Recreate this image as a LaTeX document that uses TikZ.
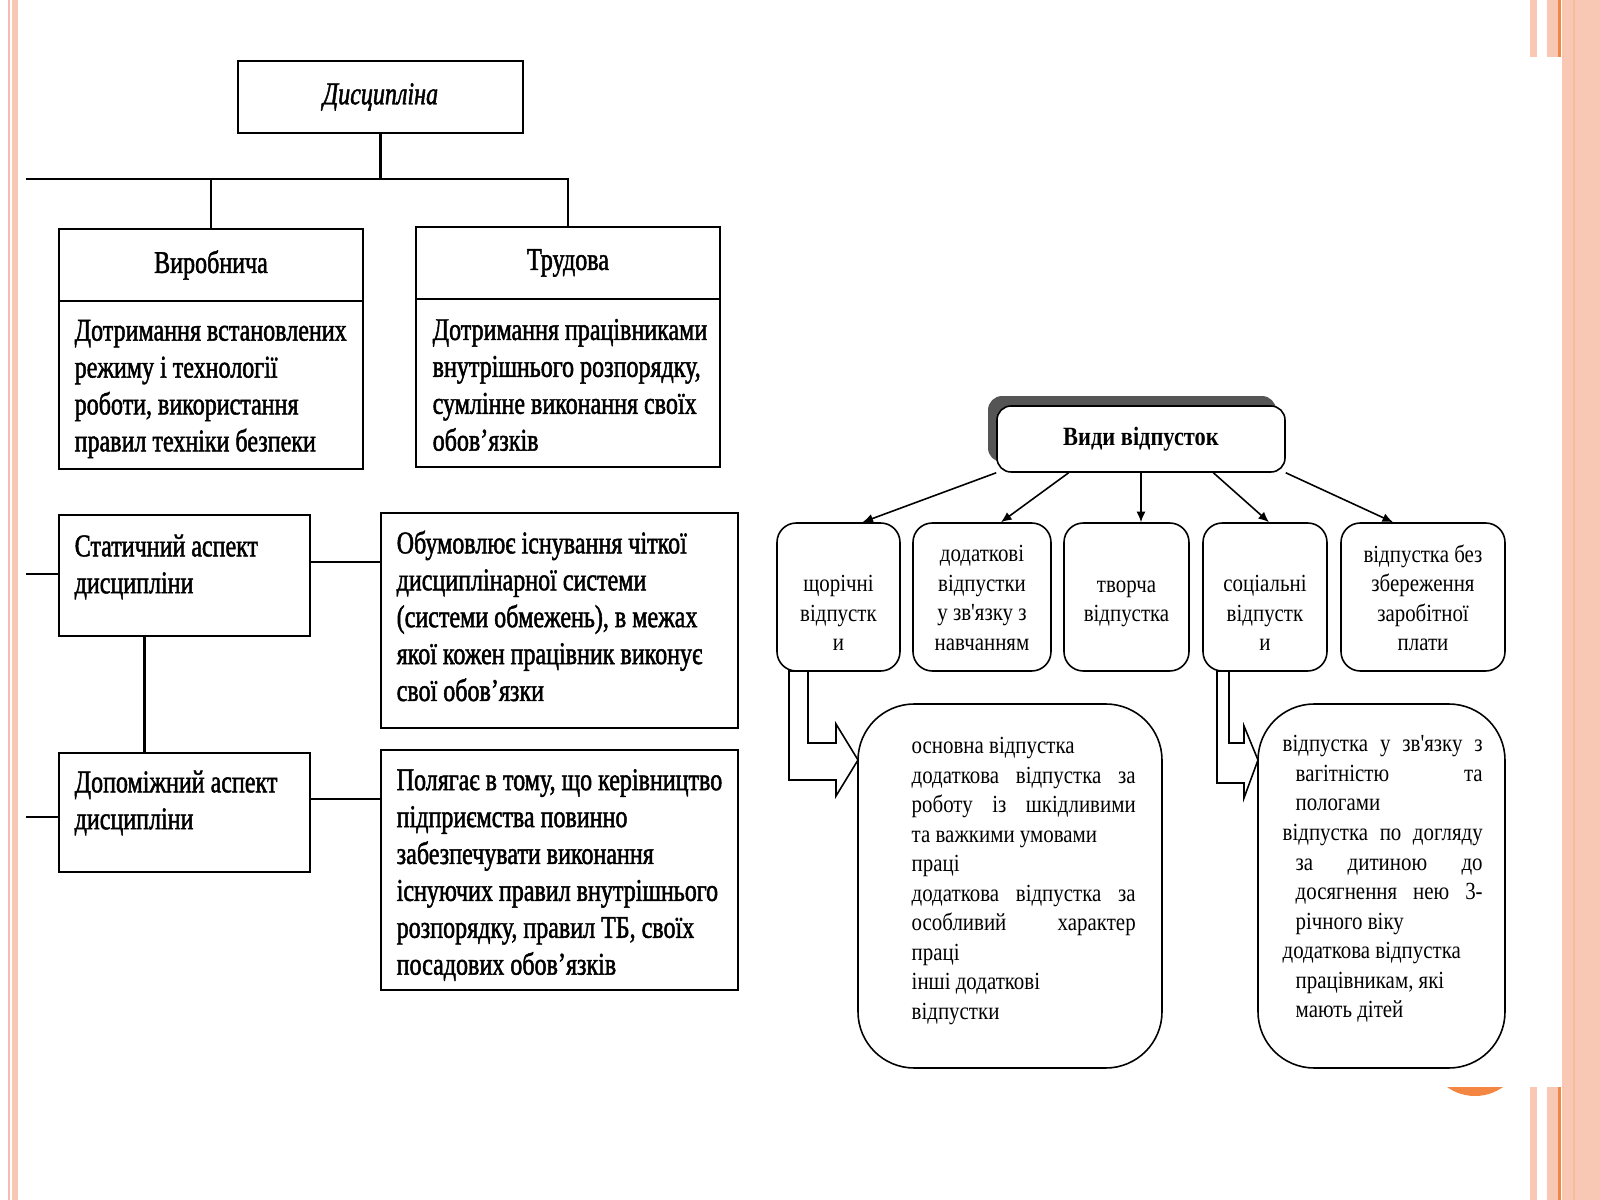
\documentclass[tikz,border=0pt]{standalone}
\usepackage{fontspec}
\usepackage{tikz}
\usetikzlibrary{arrows.meta, positioning, calc, shadows}
\newfontfamily\scanfont{Liberation Serif}[FakeStretch=0.76, FakeBold=1.5]
\newfontfamily\slidefont{Liberation Serif}[FakeStretch=0.85]
\definecolor{stripepeach}{RGB}{249,200,180}
\definecolor{stripepink}{RGB}{244,186,180}
\definecolor{stripeorange}{RGB}{243,134,66}
\definecolor{shadowgray}{RGB}{85,85,85}
\newdimen\pxu \pxu=0.1mm
\newcommand{\jline}[2]{\makebox[#1\pxu][s]{#2}}

\begin{document}
\begin{tikzpicture}[
    x=0.1mm, y=-0.1mm,
    sqbox/.style={draw, line width=0.75pt, inner sep=0pt},
    scantxt/.style={font=\scanfont\fontsize{9}{10.5}\selectfont, align=left, inner sep=0pt, anchor=west},
    link/.style={line width=0.75pt},
    roundbox/.style={draw, line width=0.45pt, rounded corners=5.5pt, inner sep=0pt},
    bigbox/.style={roundbox, rounded corners=16pt},
    slidetxt/.style={font=\slidefont\fontsize{7}{8.4}\selectfont, align=center, inner sep=0pt},
    arrow/.style={-{Latex[length=3pt,width=2.6pt]}, line width=0.45pt},
]
\useasboundingbox (0,0) rectangle (1600,1200);
\fill[white] (0,0) rectangle (1600,1200);

% slide stripes
\fill[stripepink] (8,0) rectangle (10,1200);
\fill[stripepeach] (12,0) rectangle (18,1200);
\fill[stripepeach] (1530,0) rectangle (1537,1200);
\fill[stripepeach] (1547,0) rectangle (1561,1200);
\fill[stripeorange] (1558,0) rectangle (1561,1200);
\fill[stripepeach] (1562,0) rectangle (1600,1200);
\fill[stripepeach!80!stripeorange] (1573,0) rectangle (1575,1200);
\fill[stripeorange] (1475,1048) circle[radius=48\pxu];
\fill[white] (760,57) rectangle (1562,1087);

% Discipline tree
\node[sqbox, minimum width=285\pxu, minimum height=72\pxu, font=\scanfont\fontsize{9}{10.5}\selectfont\itshape] (disc) at (380.5,97) {Дисципліна};
\node[sqbox, minimum width=304\pxu, minimum height=72\pxu, font=\scanfont\fontsize{9}{10.5}\selectfont] (vyrtitle) at (211,265) {Виробнича};
\node[sqbox, minimum width=304\pxu, minimum height=168\pxu] (vyrbody) at (211,385) {};
\node[sqbox, minimum width=304\pxu, minimum height=72\pxu, font=\scanfont\fontsize{9}{10.5}\selectfont] (trudtitle) at (568,263) {Трудова};
\node[sqbox, minimum width=304\pxu, minimum height=168\pxu] (trudbody) at (568,383) {};
\node[scantxt] (vyrtext) at (74,389) {Дотримання встановлених\\режиму і технології\\роботи, використання\\правил техніки безпеки};
\node[scantxt] (trudtext) at (432,385) {Дотримання працівниками\\внутрішнього розпорядку,\\сумлінне виконання своїх\\обов’язків};

\coordinate (busW) at (26,179);
\draw[link] (disc.south) -- (disc.south |- busW);
\draw[link] (busW) -| (trudtitle.north);
\draw[link] (vyrtitle.north) -- (vyrtitle.north |- busW);

% Aspects
\node[sqbox, minimum width=251\pxu, minimum height=121\pxu] (stat) at (184.5,575.5) {};
\node[sqbox, minimum width=357\pxu, minimum height=215\pxu] (obum) at (559.5,620.5) {};
\node[sqbox, minimum width=251\pxu, minimum height=119\pxu] (dop) at (184.5,812.5) {};
\node[sqbox, minimum width=357\pxu, minimum height=240\pxu] (pol) at (559.5,870) {};
\node[scantxt] (stattext) at (74,567) {Статичний аспект\\дисципліни};
\node[scantxt] (obumtext) at (396,616) {Обумовлює існування чіткої\\дисциплінарної системи\\(системи обмежень), в межах\\якої кожен працівник виконує\\свої обов’язки};
\node[scantxt] (doptext) at (74,803) {Допоміжний аспект\\дисципліни};
\node[scantxt] (poltext) at (396,875) {Полягає в тому, що керівництво\\підприємства повинно\\забезпечувати виконання\\існуючих правил внутрішнього\\розпорядку, правил ТБ, своїх\\посадових обов’язків};

\coordinate (statW) at (26,574);
\coordinate (dopW) at (26,817);
\draw[link] (statW) -- (statW -| stat.west);
\draw[link] (dopW) -- (dopW -| dop.west);
\draw[link] ([yshift=13.5\pxu]stat.east) -- ([yshift=13.5\pxu]stat.east -| obum.west);
\draw[link] ([yshift=13.5\pxu]dop.east) -- ([yshift=13.5\pxu]dop.east -| pol.west);
\draw[link] ([xshift=-40\pxu]stat.south) -- ([xshift=-40\pxu]dop.north);

% Types of leave
\node[roundbox, rounded corners=4pt, fill=white, minimum width=288\pxu, minimum height=66\pxu,
      general shadow={fill=shadowgray, shadow xshift=-9\pxu, shadow yshift=10\pxu},
      font=\slidefont\bfseries\fontsize{7.5}{9}\selectfont] (vv) at (1141,439) {Види відпусток};
\node[roundbox, minimum width=123\pxu, minimum height=148\pxu] (v1) at (838.5,597) {};
\node[roundbox, minimum width=138\pxu, minimum height=148\pxu] (v2) at (982,597) {};
\node[roundbox, minimum width=125\pxu, minimum height=148\pxu] (v3) at (1126.5,597) {};
\node[roundbox, minimum width=124\pxu, minimum height=148\pxu] (v4) at (1265,597) {};
\node[roundbox, minimum width=164\pxu, minimum height=148\pxu] (v5) at (1423,597) {};
\node[slidetxt] (l1) at (838.5,613) {щорічні\\відпустк\\и};
\node[slidetxt] (l2) at (982,598) {додаткові\\відпустки\\у зв'язку з\\навчанням};
\node[slidetxt] (l3) at (1126.5,604) {творча\\відпустка};
\node[slidetxt] (l4) at (1265,613) {соціальні\\відпустк\\и};
\node[slidetxt] (l5) at (1423,598) {відпустка без\\збереження\\заробітної\\плати};

\draw[arrow] (vv.south west) -- ([xshift=24\pxu]v1.north);
\draw[arrow] ($(vv.south west)!0.5!(vv.south)$) -- ([xshift=19\pxu]v2.north);
\draw[arrow] (vv.south) -- (vv.south |- v3.north);
\draw[arrow] ($(vv.south)!0.5!(vv.south east)$) -- ([xshift=4\pxu]v4.north);
\draw[arrow] (vv.south east) -- ([xshift=-30\pxu]v5.north);

% Details
\node[bigbox, minimum width=304\pxu, minimum height=364\pxu] (basic) at (1010,886) {};
\node[bigbox, minimum width=247\pxu, minimum height=364\pxu] (social) at (1381.5,886) {};
\draw[line width=0.45pt] (808,671) -- (789,671) -- (789,780) -- (836,780) -- (836,796) -- (858,760)
    -- (836,724) -- (836,743) -- (808,743) -- cycle;
\draw[line width=0.45pt] (1229,671) -- (1217,671) -- (1217,783) -- (1244,783) -- (1244,798) -- (1258,760)
    -- (1244,726) -- (1244,743) -- (1229,743) -- cycle;
\node[slidetxt, align=left, anchor=west] (basictext) at (911,881) {основна відпустка\\\jline{224}{додаткова відпустка за}\\\jline{224}{роботу із шкідливими}\\та важкими умовами\\праці\\\jline{224}{додаткова відпустка за}\\\jline{224}{особливий характер}\\праці\\інші додаткові\\відпустки};
\node[slidetxt, align=left, anchor=west] (socialtext) at (1282,879) {\jline{200}{відпустка у зв'язку з}\\\hspace*{13\pxu}\jline{187}{вагітністю та}\\\hspace*{13\pxu}пологами\\\jline{200}{відпустка по догляду}\\\hspace*{13\pxu}\jline{187}{за дитиною до}\\\hspace*{13\pxu}\jline{187}{досягнення нею 3-}\\\hspace*{13\pxu}річного віку\\додаткова відпустка\\\hspace*{13\pxu}працівникам, які\\\hspace*{13\pxu}мають дітей};
\end{tikzpicture}
\end{document}
